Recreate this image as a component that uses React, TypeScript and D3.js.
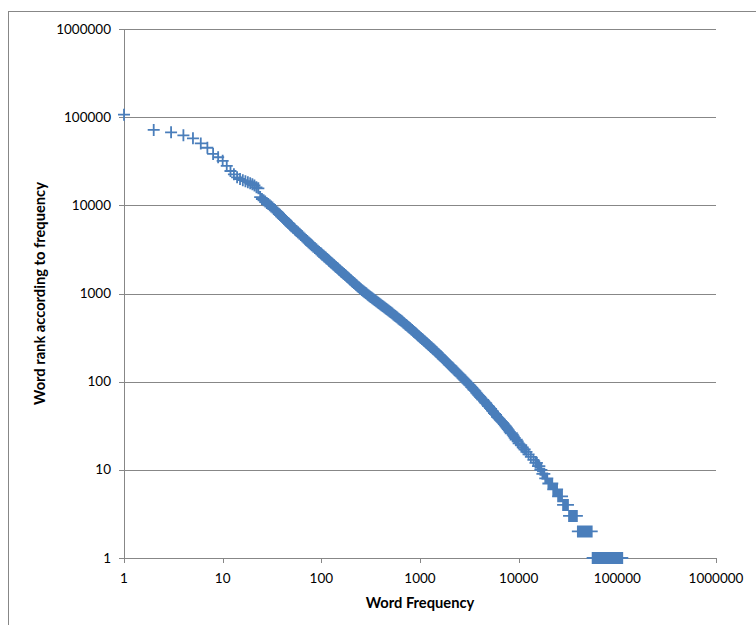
import React from "react";
import * as d3 from "d3";

// decade ticks shared by both log axes
const tickValues = [1, 10, 100, 1000, 10000, 100000, 1000000];
const tickLabels = ["1", "10", "100", "1000", "10000", "100000", "1000000"];

// low frequencies: one point per integer frequency
const sparseFreq = [1, 2, 3, 4, 5, 6, 7, 8, 9, 10, 11, 12, 13, 14, 15, 16, 17, 18, 19, 20, 21, 22, 23, 24];
const sparseRank = [
  106700, 71600, 67300, 62200, 57500, 50400, 45000, 38300, 35100, 32000, 28000, 24500,
  22500, 20800, 19900, 19300, 18800, 18300, 17800, 17300, 16800, 16000, 15600, 12400,
];

// start of the dense band (25 .. 98)
const bandLowFreq = [
  25, 26, 27, 28, 29, 30, 31, 32, 33, 34, 35, 36, 37, 38, 39, 40, 41, 42, 43, 44, 45, 46, 47, 48, 49, 50,
  52, 54, 56, 58, 60, 62, 64, 66, 68, 70, 72, 74, 76, 78, 80,
  83, 86, 89, 92, 95, 98,
];
const bandLowRank = [
  11800, 11390, 11020, 10660, 10330, 10020, 9730, 9430, 9100, 8830, 8540, 8290, 8040, 7800, 7580, 7380,
  7170, 6990, 6820, 6650, 6480, 6320, 6180, 6040, 5900, 5770,
  5540, 5330, 5120, 4940, 4770, 4610, 4450, 4310, 4170, 4050, 3940, 3820, 3720, 3620, 3520,
  3400, 3280, 3170, 3060, 2960, 2880,
];

// dense band, 100 .. 10000
const bandFreq = [
  100, 102, 105, 107, 110, 112, 115, 118, 120, 123,
  126, 129, 132, 135, 138, 141, 145, 148, 151, 155,
  158, 162, 166, 170, 174, 178, 182, 186, 191, 195,
  200, 204, 209, 214, 219, 224, 229, 234, 240, 246,
  251, 257, 263, 269, 275, 282, 288, 295, 302, 309,
  316, 324, 331, 339, 347, 355, 363, 372, 380, 389,
  398, 407, 417, 427, 437, 447, 457, 468, 479, 490,
  501, 513, 525, 537, 550, 562, 575, 589, 603, 617,
  631, 646, 661, 676, 692, 708, 724, 741, 759, 776,
  794, 813, 832, 851, 871, 891, 912, 933, 955, 977,
  1000, 1023, 1047, 1072, 1096, 1122, 1148, 1175, 1202, 1230,
  1259, 1288, 1318, 1349, 1380, 1413, 1445, 1479, 1514, 1549,
  1585, 1622, 1660, 1698, 1738, 1778, 1820, 1862, 1905, 1950,
  1995, 2042, 2089, 2138, 2188, 2239, 2291, 2344, 2399, 2455,
  2512, 2570, 2630, 2692, 2754, 2818, 2884, 2951, 3020, 3090,
  3162, 3236, 3311, 3388, 3467, 3548, 3631, 3715, 3802, 3890,
  3981, 4074, 4169, 4266, 4365, 4467, 4571, 4677, 4786, 4898,
  5012, 5129, 5248, 5370, 5495, 5623, 5754, 5888, 6026, 6166,
  6310, 6457, 6607, 6761, 6918, 7079, 7244, 7413, 7586, 7762,
  7943, 8128, 8318, 8511, 8710, 8913, 9120, 9333, 9550, 9772,
  10000,
];
const bandRank = [
  2818, 2754, 2692, 2630, 2570, 2512, 2455, 2399, 2344, 2291,
  2239, 2188, 2138, 2089, 2042, 1995, 1950, 1905, 1862, 1820,
  1778, 1738, 1698, 1660, 1622, 1585, 1549, 1514, 1479, 1445,
  1413, 1380, 1349, 1318, 1288, 1259, 1230, 1202, 1175, 1148,
  1122, 1099, 1076, 1054, 1033, 1012, 991, 971, 951, 931,
  912, 894, 877, 860, 843, 827, 811, 795, 780, 765,
  750, 736, 721, 707, 693, 680, 667, 654, 641, 629,
  617, 604, 592, 579, 568, 556, 545, 533, 522, 512,
  501, 490, 480, 470, 459, 449, 440, 430, 421, 412,
  403, 394, 385, 376, 367, 359, 351, 343, 335, 327,
  320, 313, 305, 299, 292, 285, 279, 272, 266, 260,
  254, 248, 242, 236, 231, 225, 220, 215, 209, 204,
  200, 195, 190, 185, 180, 176, 171, 167, 163, 159,
  155, 151, 147, 144, 140, 136, 133, 130, 126, 123,
  120, 117, 114, 111, 108, 105, 103, 100, 97, 95,
  92, 90, 87, 85, 82, 80, 78, 75, 73, 71,
  69, 67, 65, 63, 62, 60, 58, 57, 55, 53,
  52, 50, 49, 47, 46, 44, 43, 42, 40, 39,
  38, 37, 36, 35, 34, 33, 32, 31, 30, 29,
  28, 27, 26, 26, 25, 24, 23, 22, 22, 21,
  20,
];

// top words: small ranks repeat over a run of frequencies
const tailFreq = [
  10600, 11000, 11500, 12000, 12600, 13300, 14100, 14800, 15300, 15700, 16200,
  16600, 17000, 17400, 17800, 18200, 18600, 19100, 19500,
  20000, 20400, 20900, 21400, 21900, 22400, 22900, 23400, 24000, 24500,
  25100, 25700, 26300, 26900, 27500, 28200, 28800, 29500, 30200, 30900, 31600,
  32400, 33100, 33900, 34700, 35500, 36300, 37200, 38000, 38900,
  39800, 40700, 41700, 42700, 43700, 44700, 45700, 46800, 47900, 49000,
  50100, 51300, 52500, 53700, 55000,
  56200, 57500, 58900, 60300, 61700, 63100, 64600, 66100, 67600, 69200,
  70800, 72400, 74100, 75900, 77600, 79400, 81300, 83200, 85100, 87100,
  89100, 91200, 93300, 95500, 97700, 100000, 102300, 104700, 107200, 109600, 112200,
];
const tailRank = [
  19, 18, 17, 16, 15, 14, 13, 12, 12, 11, 11,
  10, 10, 9, 9, 9, 8, 8, 8,
  7, 7, 7, 7, 7, 6, 6, 6, 6, 6,
  5, 5, 5, 5, 5, 4, 4, 4, 4, 4, 4,
  3, 3, 3, 3, 3, 3, 3, 3, 3,
  2, 2, 2, 2, 2, 2, 2, 2, 2, 2,
  2, 2, 2, 2, 2,
  1, 1, 1, 1, 1, 1, 1, 1, 1, 1,
  1, 1, 1, 1, 1, 1, 1, 1, 1, 1,
  1, 1, 1, 1, 1, 1, 1, 1, 1, 1, 1,
];

const width = 756;
const height = 625;
const margin = { left: 124, right: 40, top: 29, bottom: 67 };

export default function App() {
  const x = d3.scaleLog().domain([1, 1000000]).range([margin.left, width - margin.right]);
  const y = d3.scaleLog().domain([1, 1000000]).range([height - margin.bottom, margin.top]);

  const points: [number, number][] = [];
  sparseFreq.forEach((f, i) => points.push([f, sparseRank[i]]));
  bandLowFreq.forEach((f, i) => points.push([f, bandLowRank[i]]));
  bandFreq.forEach((f, i) => points.push([f, bandRank[i]]));
  tailFreq.forEach((f, i) => points.push([f, tailRank[i]]));

  const s = 6; // half size of the + marker
  const markerPath = points
    .map(([f, r]) => {
      const px = x(f);
      const py = y(r);
      return `M${px - s},${py}H${px + s}M${px},${py - s}V${py + s}`;
    })
    .join("");

  const x0 = margin.left;
  const x1 = width - margin.right;
  const yBottom = height - margin.bottom;
  const font = "Lato, 'Open Sans', sans-serif";

  return (
    <svg
      width={width}
      height={height}
      style={{ position: "fixed", left: 0, top: 0, background: "#fff" }}
      fontFamily={font}
    >
      {/* chart area border (runs off the right and bottom edge) */}
      <rect x={8.5} y={11.5} width={800} height={700} fill="#fff" stroke="#878787" strokeWidth={1} />

      {/* horizontal gridlines + y ticks */}
      {tickValues.map((t, i) => (
        <g key={"gy" + t}>
          {i > 0 && (
            <line x1={x0 - 5} x2={x1} y1={Math.round(y(t)) + 0.5} y2={Math.round(y(t)) + 0.5} stroke="#878787" />
          )}
          <text x={111} y={y(t) + 4.5} textAnchor="end" fontSize={13.5} fill="#000">
            {tickLabels[i]}
          </text>
        </g>
      ))}

      {/* y axis line */}
      <line x1={x0 + 0.5} x2={x0 + 0.5} y1={margin.top} y2={yBottom} stroke="#878787" />

      {/* x axis line + ticks */}
      <line x1={x0 - 5} x2={x1} y1={yBottom + 0.5} y2={yBottom + 0.5} stroke="#878787" />
      {tickValues.map((t, i) => (
        <g key={"gx" + t}>
          <line
            x1={Math.round(x(t)) + 0.5}
            x2={Math.round(x(t)) + 0.5}
            y1={yBottom}
            y2={yBottom + 5}
            stroke="#878787"
          />
          <text x={x(t)} y={yBottom + 25} textAnchor="middle" fontSize={13.5} fill="#000">
            {tickLabels[i]}
          </text>
        </g>
      ))}

      {/* data */}
      <path d={markerPath} fill="none" stroke="#4A7EBB" strokeWidth={1.8} />

      {/* axis titles */}
      <text
        x={(x0 + x1) / 2}
        y={608}
        textAnchor="middle"
        fontSize={14.7}
        fontWeight="bold"
        fill="#000"
      >
        Word Frequency
      </text>
      <text
        transform={`translate(45 ${(margin.top + yBottom) / 2}) rotate(-90)`}
        textAnchor="middle"
        fontSize={14.7}
        fontWeight="bold"
        fill="#000"
      >
        Word rank according to frequency
      </text>
    </svg>
  );
}
